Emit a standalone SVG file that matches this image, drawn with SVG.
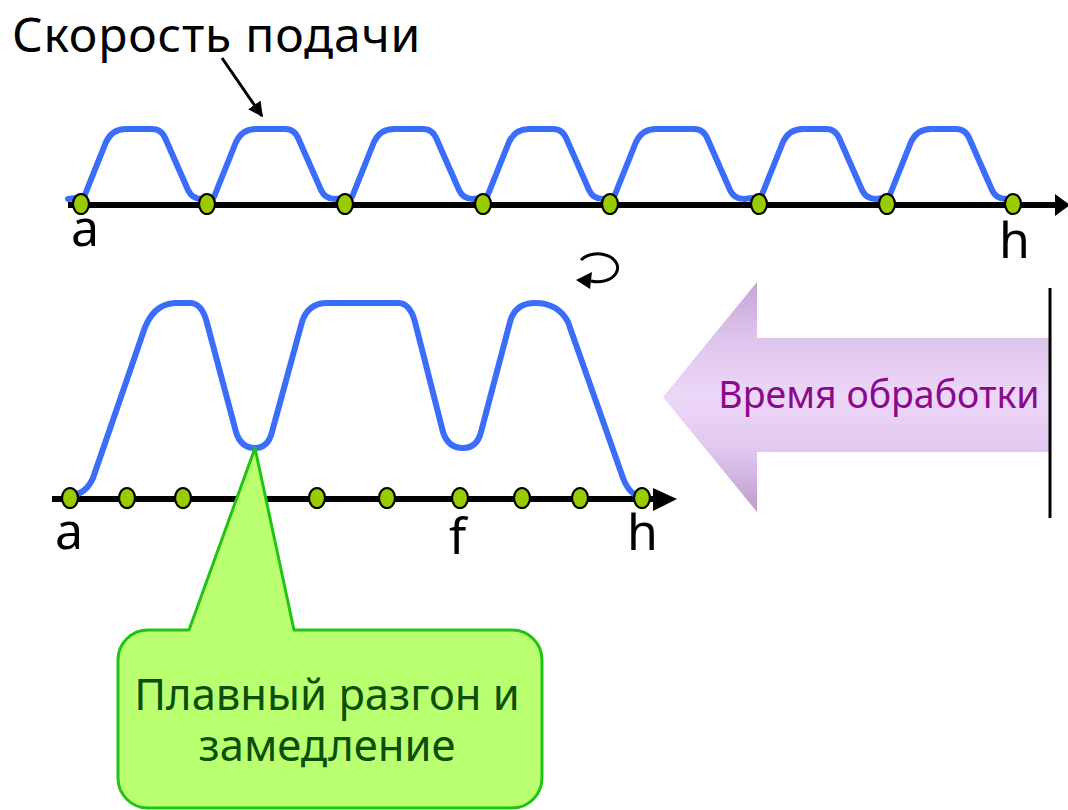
<svg xmlns="http://www.w3.org/2000/svg" width="1068" height="810" viewBox="0 0 1068 810">
<style>
.lbl{font-family:"Noto Sans","Open Sans","DejaVu Sans",sans-serif;fill:#000}
.curve{fill:none;stroke:#3A6DF9;stroke-width:6;stroke-linejoin:round;stroke-linecap:round}
.axis{stroke:#000;stroke-width:6}
.dot{fill:#99CC00;stroke:#000;stroke-width:2.2}
</style>
<defs>
<linearGradient id="pg" x1="0" y1="282" x2="0" y2="512" gradientUnits="userSpaceOnUse">
<stop offset="0" stop-color="#C4A6D4"/>
<stop offset="0.26" stop-color="#DFC6EE"/>
<stop offset="0.5" stop-color="#EDD7F8"/>
<stop offset="0.74" stop-color="#DFC6EE"/>
<stop offset="1" stop-color="#BC9CCB"/>
</linearGradient>
<marker id="ah" viewBox="0 0 10 10" refX="9" refY="5" markerWidth="5" markerHeight="5" orient="auto" markerUnits="strokeWidth">
<path d="M0,0 L10,5 L0,10 Z" fill="#000"/>
</marker>
</defs>

<g id="title">
<text class="lbl" x="12" y="52" font-size="48" letter-spacing="0.8">Скорость подачи</text>
</g>

<g id="top-axis">
<line class="axis" x1="68" y1="205" x2="1058" y2="205"/>
<polygon points="1055,194 1070,205 1055,216" fill="#000"/>
</g>

<g id="top-curve">
<path class="curve" d="M68,199 L84,197 L106,142 Q112,129 126,129 L152,129 Q162,129 166,140 L188,190 Q192,199 202,199 L214,197 L236,142 Q242,129 256,129 L285,129 Q295,129 299,140 L321,190 Q325,199 335,199 L352,197 L374,142 Q380,129 394,129 L423,129 Q433,129 437,140 L459,190 Q463,199 473,199 L487,197 L509,142 Q515,129 529,129 L553,129 Q563,129 567,140 L589,190 Q593,199 603,199 L614,197 L636,142 Q642,129 656,129 L694,129 Q704,129 708,140 L730,190 Q734,199 744,199 L761,197 L783,142 Q789,129 803,129 L826,129 Q836,129 840,140 L862,190 Q866,199 876,199 L889,197 L911,142 Q917,129 931,129 L956,129 Q966,129 970,140 L992,190 Q996,199 1006,199 L1013,201"/>
</g>

<g id="top-dots">
<ellipse class="dot" cx="81" cy="204" rx="8" ry="10"/>
<ellipse class="dot" cx="207" cy="204" rx="8" ry="10"/>
<ellipse class="dot" cx="345" cy="204" rx="8" ry="10"/>
<ellipse class="dot" cx="483" cy="204" rx="8" ry="10"/>
<ellipse class="dot" cx="610" cy="204" rx="8" ry="10"/>
<ellipse class="dot" cx="759" cy="204" rx="8" ry="10"/>
<ellipse class="dot" cx="887" cy="204" rx="8" ry="10"/>
<ellipse class="dot" cx="1013" cy="204" rx="8" ry="10"/>
</g>

<g id="top-labels">
<text class="lbl" x="71" y="246" font-size="50">a</text>
<text class="lbl" x="999" y="258" font-size="50">h</text>
</g>

<g id="rotate-symbol">
<path d="M581,260 A20,14 0 1 1 591,281" fill="none" stroke="#000" stroke-width="3"/>
<polygon points="576,280 592,272 590,289" fill="#000"/>
</g>

<g id="time-arrow">
<polygon points="663,397 757,282 757,338 1050,338 1050,452 757,452 757,512" fill="url(#pg)"/>
<text x="879" y="408" font-size="37.5" text-anchor="middle" font-family="Noto Sans, Open Sans, DejaVu Sans, sans-serif" fill="#8B0A8B">Время обработки</text>
<line x1="1050" y1="288" x2="1050" y2="518" stroke="#000" stroke-width="3"/>
</g>

<g id="bottom-axis">
<line class="axis" x1="52" y1="499" x2="656" y2="499"/>
<polygon points="653,488 677,499 653,511" fill="#000"/>
</g>

<g id="bottom-curve">
<path class="curve" d="M70,496 Q86,494 93,478 L143,333 Q152,304 175,303 L190,303 Q202,303 207,323 L236,432 Q241,448 255,448 Q268,448 272,432 L302,322 Q308,303 327,303 L398,303 Q410,303 415,322 L443,432 Q448,448 463,448 Q477,448 481,432 L510,322 Q515,303 535,303 Q558,303 568,322 L623,478 Q630,496 642,497"/>
</g>

<g id="bottom-dots">
<ellipse class="dot" cx="70" cy="498" rx="8" ry="10"/>
<ellipse class="dot" cx="127" cy="498" rx="8" ry="10"/>
<ellipse class="dot" cx="183" cy="498" rx="8" ry="10"/>
<ellipse class="dot" cx="317" cy="498" rx="8" ry="10"/>
<ellipse class="dot" cx="387" cy="498" rx="8" ry="10"/>
<ellipse class="dot" cx="460" cy="498" rx="8" ry="10"/>
<ellipse class="dot" cx="522" cy="498" rx="8" ry="10"/>
<ellipse class="dot" cx="580" cy="498" rx="8" ry="10"/>
<ellipse class="dot" cx="642" cy="498" rx="8" ry="10"/>
</g>

<g id="bottom-labels">
<text class="lbl" x="55" y="549" font-size="50">a</text>
<text class="lbl" x="449" y="554" font-size="50">f</text>
<text class="lbl" x="627" y="550" font-size="50">h</text>
</g>

<g id="callout">
<path d="M148,630 L189,630 L255,448 L294,630 L512,630 A30,30 0 0 1 542,660 L542,778 A30,30 0 0 1 512,808 L148,808 A30,30 0 0 1 118,778 L118,660 A30,30 0 0 1 148,630 Z" fill="#B9FF6F" stroke="#22C414" stroke-width="3" stroke-linejoin="round"/>
<text font-size="43.5" text-anchor="middle" font-family="Noto Sans, Open Sans, DejaVu Sans, sans-serif" fill="#0B4F0B"><tspan x="327" y="710">Плавный разгон и</tspan><tspan x="327" y="761">замедление</tspan></text>
</g>

<g id="connectors">
<line x1="222" y1="58" x2="262" y2="116" stroke="#000" stroke-width="3" marker-end="url(#ah)"/>
</g>
</svg>
